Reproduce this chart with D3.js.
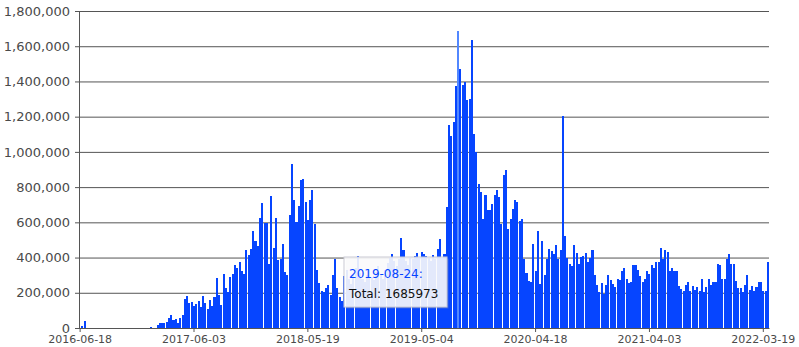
<!DOCTYPE html>
<html>
<head>
<meta charset="utf-8">
<script src="https://cdn.jsdelivr.net/npm/d3@7"></script>
<style>
  body { margin: 0; background: #fff; }
  text { font-family: "DejaVu Sans", Verdana, sans-serif; }
</style>
</head>
<body>
<div id="chart"></div>
<script>
// weekly totals, first week starts 2016-06-18
const startWeek = "2016-06-18";

const weeklyTotals = [
  0, 12000, 40000, 0, 0, 0, 0, 0, 0, 0,
  0, 0, 0, 0, 0, 0, 0, 0, 0, 0,
  0, 0, 0, 0, 0, 0, 0, 0, 0, 0,
  0, 4000, 0, 0, 16000, 29000, 27000, 27000, 34000, 59000,
  73000, 43000, 50000, 30000, 57000, 71000, 162000, 180000, 142000, 147000,
  126000, 137000, 154000, 120000, 179000, 140000, 109000, 157000, 126000, 176000,
  285000, 187000, 130000, 305000, 229000, 204000, 290000, 309000, 356000, 338000,
  373000, 324000, 309000, 441000, 414000, 447000, 549000, 494000, 463000, 625000,
  708000, 596000, 596000, 366000, 751000, 457000, 624000, 385000, 394000, 479000,
  319000, 300000, 640000, 932000, 728000, 602000, 694000, 842000, 845000, 715000,
  611000, 724000, 781000, 589000, 332000, 257000, 211000, 202000, 228000, 245000,
  187000, 300000, 394000, 228000, 177000, 153000, 294000, 330000, 280000, 250000,
  300000, 340000, 407000, 310000, 280000, 260000, 300000, 330000, 290000, 270000,
  320000, 350000, 300000, 280000, 330000, 370000, 400000, 420000, 380000, 350000,
  390000, 513000, 445000, 380000, 360000, 400000, 390000, 410000, 425000, 400000,
  432000, 419000, 410000, 400000, 380000, 413000, 390000, 451000, 508000, 400000,
  420000, 687000, 1153000, 1092000, 1168000, 1374000, 1685973, 1470000, 1379000, 1398000,
  1294000, 1300000, 1636000, 1102000, 1002000, 817000, 772000, 617000, 758000, 672000,
  672000, 702000, 758000, 785000, 743000, 592000, 866000, 898000, 564000, 621000,
  677000, 724000, 715000, 606000, 621000, 394000, 313000, 268000, 260000, 475000,
  324000, 549000, 249000, 492000, 300000, 394000, 447000, 438000, 419000, 470000,
  394000, 441000, 1205000, 521000, 400000, 366000, 353000, 470000, 428000, 362000,
  404000, 407000, 428000, 375000, 400000, 445000, 300000, 243000, 205000, 253000,
  191000, 247000, 300000, 272000, 249000, 230000, 281000, 272000, 323000, 341000,
  276000, 257000, 260000, 356000, 356000, 328000, 294000, 260000, 277000, 323000,
  309000, 356000, 342000, 374000, 372000, 457000, 389000, 441000, 432000, 323000,
  338000, 324000, 326000, 240000, 221000, 209000, 243000, 259000, 209000, 238000,
  215000, 234000, 209000, 277000, 206000, 234000, 281000, 243000, 262000, 262000,
  366000, 360000, 277000, 281000, 390000, 423000, 366000, 366000, 266000, 228000,
  228000, 204000, 243000, 300000, 215000, 240000, 211000, 230000, 259000, 264000,
  211000, 211000, 372000
];

const xTickLabels = ["2016-06-18", "2017-06-03", "2018-05-19", "2019-05-04",
                     "2020-04-18", "2021-04-03", "2022-03-19"];
const yTickValues = [0, 200000, 400000, 600000, 800000, 1000000,
                     1200000, 1400000, 1600000, 1800000];

const hoveredWeek = "2019-08-24";

const fmtDay = d3.utcFormat("%Y-%m-%d");
const parseDay = d3.utcParse("%Y-%m-%d");
const firstDay = parseDay(startWeek);

const data = weeklyTotals.map((v, i) => ({
  week: fmtDay(d3.utcDay.offset(firstDay, i * 7)),
  total: v
}));

const width = 799, height = 347;
const margin = { top: 11, right: 30, bottom: 19, left: 79 };
const plotW = width - margin.left - margin.right;
const plotH = height - margin.top - margin.bottom;

const barColor = "#0645ff";
const hoverColor = "#5287ff";

const svg = d3.select("#chart").append("svg")
  .attr("width", width)
  .attr("height", height);

const g = svg.append("g")
  .attr("transform", `translate(${margin.left},${margin.top})`);

const x = d3.scaleBand()
  .domain(data.map(d => d.week))
  .range([0, plotW])
  .paddingInner(0.1)
  .paddingOuter(0.05);

const y = d3.scaleLinear()
  .domain([0, 1800000])
  .range([plotH, 0]);

// y axis + gridlines
const yAxis = g.append("g")
  .call(d3.axisLeft(y)
    .tickValues(yTickValues)
    .tickSizeInner(-plotW)
    .tickSizeOuter(0)
    .tickPadding(9)
    .tickFormat(d3.format(",")));

yAxis.select(".domain").attr("stroke", "#555");
yAxis.selectAll(".tick line")
  .attr("x1", -4)
  .attr("stroke", "#555");
yAxis.selectAll(".tick text")
  .style("font-size", "13px")
  .attr("fill", "#4a4a4a");

// bars
g.selectAll("rect.bar")
  .data(data)
  .enter().append("rect")
  .attr("class", "bar")
  .attr("x", d => x(d.week))
  .attr("y", d => y(d.total))
  .attr("width", x.bandwidth())
  .attr("height", d => plotH - y(d.total))
  .attr("shape-rendering", "crispEdges")
  .attr("fill", d => d.week === hoveredWeek ? hoverColor : barColor);

// x axis
const xAxis = g.append("g")
  .attr("transform", `translate(0,${plotH})`)
  .call(d3.axisBottom(x)
    .tickValues(xTickLabels)
    .tickSizeInner(4)
    .tickSizeOuter(0)
    .tickPadding(3));

xAxis.select(".domain").attr("stroke", "#555");
xAxis.selectAll(".tick line").attr("stroke", "#555");
xAxis.selectAll(".tick text")
  .style("font-size", "11px")
  .attr("fill", "#4a4a4a");

// tooltip for the hovered week
const hovered = data.find(d => d.week === hoveredWeek);
const tip = svg.append("g").attr("transform", "translate(344,257)");

tip.append("rect")
  .attr("x", 1.5).attr("y", 1.5)
  .attr("width", 103).attr("height", 50)
  .attr("fill", "#99a")
  .attr("opacity", 0.35);

tip.append("rect")
  .attr("width", 103).attr("height", 50)
  .attr("fill", "#fff")
  .attr("fill-opacity", 0.86)
  .attr("stroke", "#c9c9d4");

tip.append("text")
  .attr("x", 5).attr("y", 21)
  .style("font-size", "12px")
  .attr("fill", barColor)
  .text(hovered.week + ":");

tip.append("text")
  .attr("x", 5).attr("y", 41)
  .style("font-size", "12px")
  .attr("fill", "#111")
  .text("Total: " + hovered.total);
</script>
</body>
</html>
